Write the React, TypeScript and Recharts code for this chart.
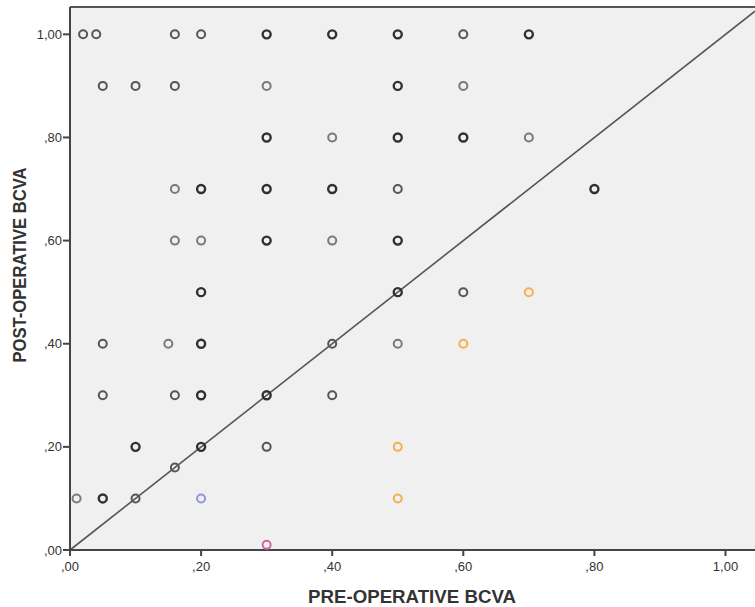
import React from 'react';
import { ScatterChart, Scatter, XAxis, YAxis, CartesianGrid, ReferenceLine } from 'recharts';

type Pt = { pre: number; post: number };

const xTicks = [0, 0.2, 0.4, 0.6, 0.8, 1.0];
const yTicks = [0, 0.2, 0.4, 0.6, 0.8, 1.0];

const lightPts: Pt[] = [
  { pre: 0.3, post: 0.9 }, { pre: 0.6, post: 0.9 }, { pre: 0.4, post: 0.8 }, { pre: 0.7, post: 0.8 },
  { pre: 0.16, post: 0.7 }, { pre: 0.16, post: 0.6 }, { pre: 0.2, post: 0.6 }, { pre: 0.4, post: 0.6 },
  { pre: 0.15, post: 0.4 }, { pre: 0.5, post: 0.4 }, { pre: 0.01, post: 0.1 },
];

const mediumPts: Pt[] = [
  { pre: 0.02, post: 1.0 }, { pre: 0.04, post: 1.0 }, { pre: 0.16, post: 1.0 }, { pre: 0.2, post: 1.0 },
  { pre: 0.6, post: 1.0 }, { pre: 0.05, post: 0.9 }, { pre: 0.1, post: 0.9 }, { pre: 0.16, post: 0.9 },
  { pre: 0.5, post: 0.7 }, { pre: 0.6, post: 0.5 }, { pre: 0.05, post: 0.4 }, { pre: 0.4, post: 0.4 },
  { pre: 0.05, post: 0.3 }, { pre: 0.16, post: 0.3 }, { pre: 0.4, post: 0.3 }, { pre: 0.3, post: 0.2 },
  { pre: 0.16, post: 0.16 }, { pre: 0.1, post: 0.1 },
];

const darkPts: Pt[] = [
  { pre: 0.3, post: 1.0 }, { pre: 0.4, post: 1.0 }, { pre: 0.5, post: 1.0 }, { pre: 0.7, post: 1.0 },
  { pre: 0.5, post: 0.9 }, { pre: 0.3, post: 0.8 }, { pre: 0.5, post: 0.8 }, { pre: 0.6, post: 0.8 },
  { pre: 0.2, post: 0.7 }, { pre: 0.3, post: 0.7 }, { pre: 0.4, post: 0.7 }, { pre: 0.8, post: 0.7 },
  { pre: 0.3, post: 0.6 }, { pre: 0.5, post: 0.6 }, { pre: 0.2, post: 0.5 }, { pre: 0.5, post: 0.5 },
  { pre: 0.2, post: 0.4 }, { pre: 0.2, post: 0.3 }, { pre: 0.3, post: 0.3 }, { pre: 0.1, post: 0.2 },
  { pre: 0.2, post: 0.2 }, { pre: 0.05, post: 0.1 },
];

const orangePts: Pt[] = [
  { pre: 0.7, post: 0.5 }, { pre: 0.6, post: 0.4 }, { pre: 0.5, post: 0.2 }, { pre: 0.5, post: 0.1 },
];
const bluePts: Pt[] = [{ pre: 0.2, post: 0.1 }];
const pinkPts: Pt[] = [{ pre: 0.3, post: 0.01 }];

const X_MAX = 1.045;
const Y_MAX = 1.053;

const FONT = '"Liberation Sans", Arial, sans-serif';

const fmt = (v: number) => {
  const s = v.toFixed(2).replace('.', ',');
  return s.startsWith('0') ? s.slice(1) : s;
};

const ring = (color: string, width: number) => (props: any) => {
  const { cx, cy } = props;
  if (cx == null || cy == null) return <g />;
  return <circle cx={cx} cy={cy} r={4} fill="none" stroke={color} strokeWidth={width} />;
};

export default function App() {
  return (
    <div style={{ position: 'absolute', left: 0, top: 0, width: 755, height: 607, background: '#fff' }}>
      <ScatterChart width={755} height={607} margin={{ top: 7, right: 0, bottom: 0, left: 0 }}>
        <CartesianGrid fill="#f0f0f0" horizontal={false} vertical={false} />
        <XAxis
          type="number"
          dataKey="pre"
          domain={[0, X_MAX]}
          ticks={xTicks}
          tickFormatter={fmt}
          height={57}
          allowDataOverflow
          stroke="#444"
          strokeWidth={2}
          tickSize={6}
          tickMargin={6}
          tick={{ fill: '#333', fontSize: 13, fontFamily: FONT }}
          tickLine={{ stroke: '#444', strokeWidth: 2 }}
          label={(p: any) => {
            const vb = p.viewBox;
            return (
              <text x={412} y={603} textAnchor="middle" fontFamily={FONT} fontWeight="bold" fontSize={18}
                fill="#333" textLength={208} lengthAdjust="spacingAndGlyphs">
                PRE-OPERATIVE BCVA
              </text>
            );
          }}
        />
        <YAxis
          type="number"
          dataKey="post"
          domain={[0, Y_MAX]}
          ticks={yTicks}
          tickFormatter={fmt}
          width={70}
          allowDataOverflow
          stroke="#444"
          strokeWidth={2}
          tickSize={7}
          tickMargin={1}
          tick={{ fill: '#333', fontSize: 13, fontFamily: FONT }}
          tickLine={{ stroke: '#444', strokeWidth: 2 }}
          label={(p: any) => (
            <text x={26} y={265} textAnchor="middle" fontFamily={FONT} fontWeight="bold" fontSize={19}
              fill="#333" transform="rotate(-90 26 265)" textLength={195} lengthAdjust="spacingAndGlyphs">
              POST-OPERATIVE BCVA
            </text>
          )}
        />
        <ReferenceLine y={Y_MAX} stroke="#555" strokeWidth={2} />
        <ReferenceLine
          segment={[{ x: 0, y: 0 }, { x: X_MAX, y: X_MAX }]}
          stroke="#555"
          strokeWidth={1.6}
        />
        <Scatter data={lightPts} shape={ring('#7a7a7a', 2)} isAnimationActive={false} />
        <Scatter data={mediumPts} shape={ring('#555555', 2)} isAnimationActive={false} />
        <Scatter data={darkPts} shape={ring('#303030', 2.4)} isAnimationActive={false} />
        <Scatter data={orangePts} shape={ring('#f5b04e', 2)} isAnimationActive={false} />
        <Scatter data={bluePts} shape={ring('#9393e0', 2)} isAnimationActive={false} />
        <Scatter data={pinkPts} shape={ring('#d0689e', 2)} isAnimationActive={false} />
      </ScatterChart>
    </div>
  );
}
